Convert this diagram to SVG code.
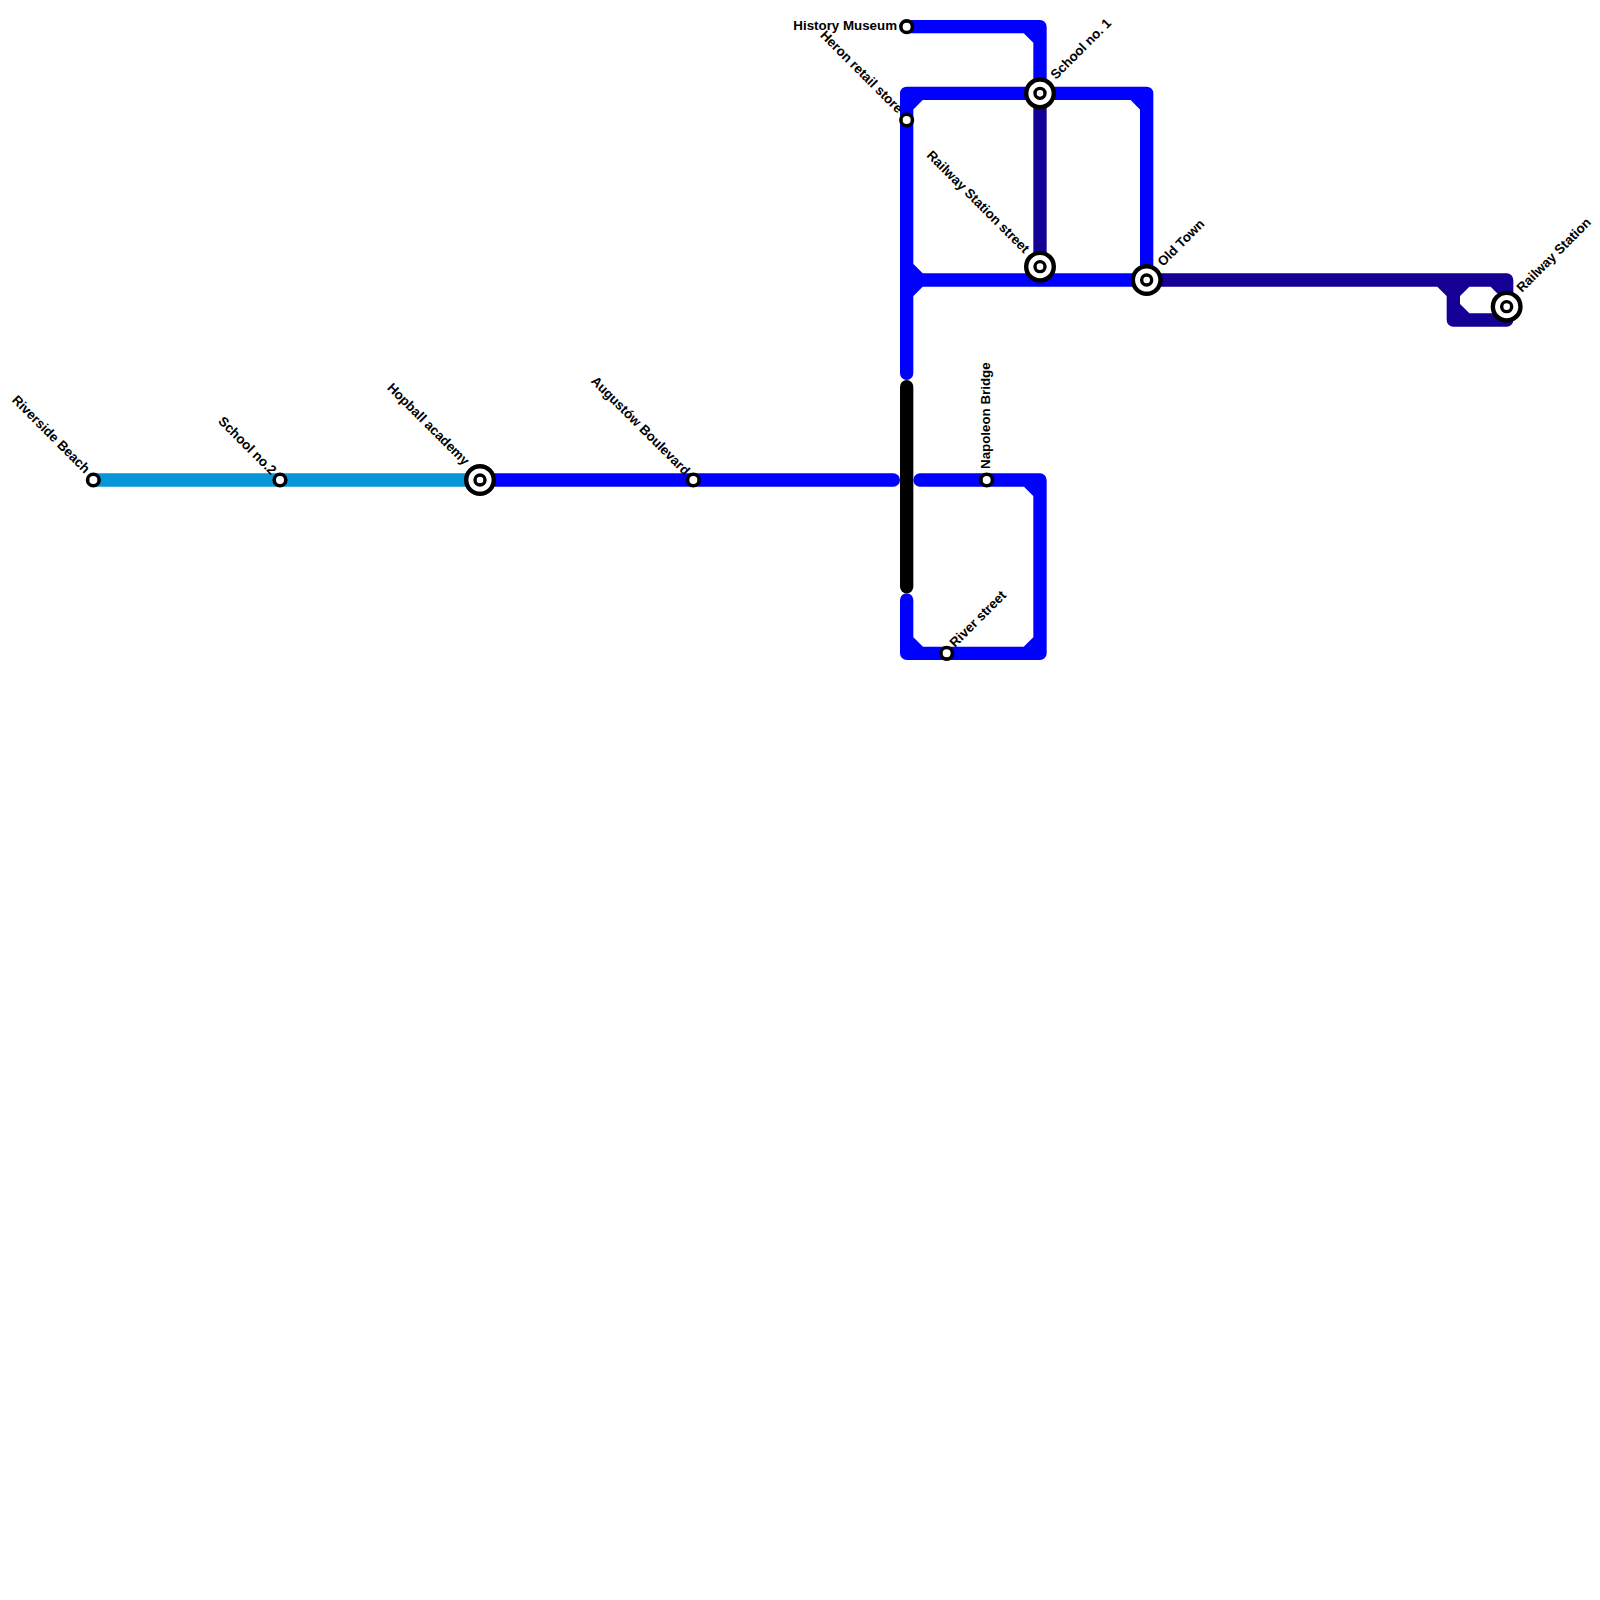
<svg xmlns="http://www.w3.org/2000/svg" width="1600" height="1600" viewBox="0 0 1600 1600">
<style>
.l{fill:none;stroke-width:13.33;stroke-linecap:round;stroke-linejoin:round}
.b{stroke:#0000ff}.d{stroke:#150095}.c{stroke:#0896d7}.k{stroke:#000}
.o{fill:#fff;stroke:#000;stroke-width:4.4}
.i{fill:#fff;stroke:#000;stroke-width:3.4}
.s{fill:#fff;stroke:#000;stroke-width:3.6}
text{font-family:"Liberation Sans",Arial,sans-serif;font-size:13.33px;font-weight:700;fill:#000}
</style>
<rect width="1600" height="1600" fill="#fff"/>
<g id="connectors">
<path class="l c" d="M93.33 480H480"/>
<path class="l b" d="M480 480H893.33"/>
<path class="l b" d="M920 480H1040V653.33H906.67V600M1026.67 480L1040 493.33M1040 640L1026.67 653.33M906.67 640L920 653.33"/>
<path class="l b" d="M906.67 26.67H1040V93.33M1026.67 26.67L1040 40"/>
<path class="l b" d="M906.67 373.33V93.33H1146.67V280H906.67M906.67 106.67L920 93.33M1133.33 93.33L1146.67 106.67M906.67 266.67L920 280L906.67 293.33"/>
<path class="l d" d="M1040 93.33V266.67"/>
<path class="l d" d="M1146.67 280H1506.67V320H1453.33V293.33M1440 280L1453.33 293.33L1466.67 280M1453.33 306.67L1466.67 320M1493.33 280L1506.67 293.33"/>
<path class="l k" d="M906.67 386.67V586.67"/>
</g>
<g id="st-riverside"><circle class="s" cx="93.33" cy="480" r="5.8"/><text transform="translate(84.5 474) rotate(45)" text-anchor="end">Riverside Beach</text></g>
<g id="st-school2"><circle class="s" cx="280" cy="480" r="5.8"/><text transform="translate(271 475.5) rotate(45)" text-anchor="end">School no.2</text></g>
<g id="st-hopball"><circle class="o" cx="480" cy="480" r="13.8"/><circle class="i" cx="480" cy="480" r="5"/><text transform="translate(464 466) rotate(45)" text-anchor="end">Hopball academy</text></g>
<g id="st-augustow"><circle class="s" cx="693.33" cy="480" r="5.8"/><text transform="translate(684.5 476) rotate(45)" text-anchor="end">Augustów Boulevard</text></g>
<g id="st-history"><circle class="s" cx="906.67" cy="26.67" r="5.8"/><text x="897" y="30" text-anchor="end">History Museum</text></g>
<g id="st-heron"><circle class="s" cx="906.67" cy="120" r="5.8"/><text transform="translate(897.5 114) rotate(45)" text-anchor="end">Heron retail store</text></g>
<g id="st-school1"><circle class="o" cx="1040" cy="93.33" r="13.8"/><circle class="i" cx="1040" cy="93.33" r="5"/><text transform="translate(1056 80) rotate(-45)">School no. 1</text></g>
<g id="st-railstreet"><circle class="o" cx="1040" cy="266.67" r="13.8"/><circle class="i" cx="1040" cy="266.67" r="5"/><text transform="translate(1024 254) rotate(45)" text-anchor="end">Railway Station street</text></g>
<g id="st-oldtown"><circle class="o" cx="1146.67" cy="280" r="13.8"/><circle class="i" cx="1146.67" cy="280" r="5"/><text transform="translate(1163 267) rotate(-45)">Old Town</text></g>
<g id="st-railway"><circle class="o" cx="1506.67" cy="306.67" r="13.8"/><circle class="i" cx="1506.67" cy="306.67" r="5"/><text transform="translate(1522 293) rotate(-45)">Railway Station</text></g>
<g id="st-napoleon"><circle class="s" cx="986.67" cy="480" r="5.8"/><text transform="translate(990 469) rotate(-90)">Napoleon Bridge</text></g>
<g id="st-river"><circle class="s" cx="946.67" cy="653.33" r="5.8"/><text transform="translate(955 648) rotate(-45)">River street</text></g>
</svg>
